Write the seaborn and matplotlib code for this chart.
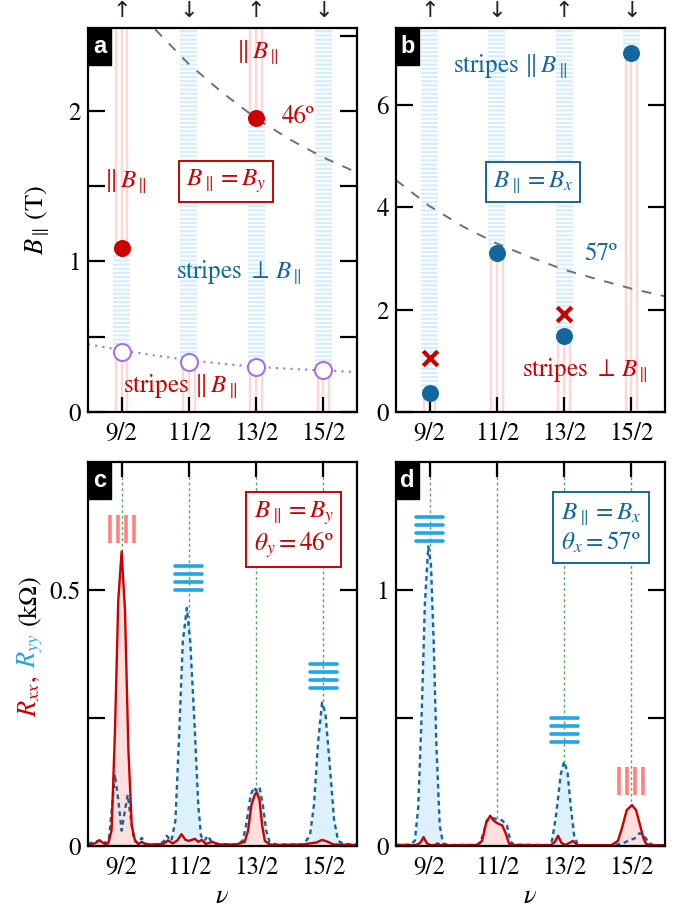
import numpy as np
import matplotlib
matplotlib.use('Agg')
import matplotlib.pyplot as plt
from matplotlib.patches import Rectangle
import seaborn as sns

# filling factors and spin branch of each half-filled level
nu_ticks = [4.5, 5.5, 6.5, 7.5]
nu_labels = ['9/2', '11/2', '13/2', '15/2']
spin_arrows = ['↑', '↓', '↑', '↓']

# panel a: B_par along y (46 deg)
a_onset = [1.09, np.nan, 1.95, np.nan]
a_open = [0.40, 0.335, 0.30, 0.28]
a_tilt_nu = [5.0, 5.5, 6.0, 6.5, 7.0, 7.5, 8.0]
a_tilt_B = [2.54, 2.31, 2.12, 1.95, 1.81, 1.69, 1.59]
a_fit_nu = [4.0, 4.5, 5.0, 5.5, 6.0, 6.5, 7.0, 7.5, 8.0]
a_fit_B = [0.45, 0.41, 0.375, 0.345, 0.32, 0.30, 0.287, 0.276, 0.265]

# panel b: B_par along x (57 deg)
b_onset = [0.37, 3.10, 1.49, 7.02]
b_cross_nu = [4.5, 6.5]
b_cross_B = [1.06, 1.92]
b_tilt_nu = [4.0, 4.5, 5.0, 5.5, 6.0, 6.5, 7.0, 7.5, 8.0]
b_tilt_B = [4.53, 4.02, 3.62, 3.29, 3.02, 2.78, 2.59, 2.41, 2.26]

# panel c: resistances at theta_y = 46 deg (kOhm)
c_rxx_nu = [4.0, 4.1, 4.17, 4.25, 4.3, 4.35, 4.4, 4.45, 4.5, 4.55, 4.6, 4.65, 4.7, 4.75,
            4.8, 4.86, 5.0, 5.12, 5.19, 5.26, 5.33, 5.39, 5.45, 5.5, 5.59, 5.64, 5.69, 5.75,
            5.85, 5.95, 6.2, 6.33, 6.38, 6.43, 6.48, 6.51, 6.55, 6.59, 6.63, 6.7, 6.8,
            7.2, 7.4, 7.48, 7.55, 7.65, 8.0]
c_rxx = [0.003, 0.005, 0.011, 0.004, 0.005, 0.03, 0.22, 0.48, 0.575, 0.46, 0.19, 0.04, 0.01, 0.004,
         0.008, 0.003, 0.003, 0.004, 0.011, 0.005, 0.011, 0.023, 0.012, 0.01, 0.014, 0.008, 0.012, 0.004,
         0.008, 0.003, 0.003, 0.008, 0.03, 0.08, 0.10, 0.105, 0.09, 0.04, 0.01, 0.003, 0.002,
         0.003, 0.007, 0.012, 0.009, 0.003, 0.002]
c_ryy_nu = [4.0, 4.1, 4.2, 4.26, 4.31, 4.36, 4.4, 4.45, 4.5, 4.55, 4.59, 4.63, 4.68, 4.74,
            4.8, 4.86, 5.0, 5.12, 5.17, 5.24, 5.3, 5.35, 5.41, 5.47, 5.52, 5.58, 5.64, 5.68,
            5.73, 5.78, 5.83, 5.9, 6.2, 6.3, 6.35, 6.42, 6.47, 6.5, 6.55, 6.6, 6.65, 6.7,
            6.8, 7.2, 7.3, 7.36, 7.42, 7.48, 7.53, 7.6, 7.66, 7.72, 7.8, 8.0]
c_ryy = [0.004, 0.008, 0.012, 0.005, 0.012, 0.08, 0.14, 0.09, 0.03, 0.07, 0.10, 0.06, 0.015, 0.005,
         0.016, 0.004, 0.003, 0.008, 0.02, 0.01, 0.05, 0.2, 0.40, 0.465, 0.40, 0.25, 0.08, 0.02,
         0.01, 0.02, 0.01, 0.004, 0.003, 0.01, 0.04, 0.10, 0.115, 0.108, 0.115, 0.08, 0.03, 0.008,
         0.003, 0.003, 0.02, 0.08, 0.2, 0.28, 0.26, 0.15, 0.05, 0.01, 0.004, 0.003]

# panel d: resistances at theta_x = 57 deg (kOhm)
d_rxx_nu = [4.0, 4.3, 4.36, 4.41, 4.46, 4.52, 4.58, 4.62, 4.66, 5.2, 5.28, 5.34, 5.4, 5.45,
            5.5, 5.58, 5.63, 5.68, 5.75, 6.3, 6.36, 6.41, 6.46, 6.52, 6.58, 6.63, 6.7,
            7.2, 7.3, 7.36, 7.43, 7.51, 7.57, 7.63, 7.68, 7.72, 7.8, 8.0]
d_rxx = [0.004, 0.004, 0.012, 0.035, 0.01, 0.003, 0.004, 0.01, 0.003, 0.004, 0.02, 0.09, 0.118, 0.10,
         0.09, 0.08, 0.05, 0.01, 0.004, 0.003, 0.015, 0.04, 0.012, 0.004, 0.012, 0.02, 0.003,
         0.003, 0.02, 0.07, 0.14, 0.16, 0.14, 0.08, 0.03, 0.008, 0.003, 0.003]
d_ryy_nu = [4.0, 4.2, 4.28, 4.33, 4.38, 4.43, 4.48, 4.52, 4.56, 4.6, 4.65, 4.7, 4.8, 5.2,
            5.25, 5.3, 5.35, 5.42, 5.5, 5.58, 5.65, 5.7, 5.75, 6.25, 6.32, 6.38, 6.45, 6.5,
            6.55, 6.6, 6.65, 6.7, 6.8, 7.2, 7.35, 7.45, 7.55, 7.62, 7.68, 7.75, 7.82, 8.0]
d_ryy = [0.004, 0.005, 0.02, 0.15, 0.5, 0.95, 1.17, 1.1, 0.8, 0.4, 0.08, 0.01, 0.004, 0.004,
         0.01, 0.05, 0.10, 0.11, 0.105, 0.10, 0.08, 0.02, 0.005, 0.004, 0.02, 0.12, 0.28, 0.33,
         0.29, 0.15, 0.04, 0.008, 0.003, 0.003, 0.008, 0.02, 0.03, 0.05, 0.045, 0.015, 0.004, 0.003]

# stripe orientation icons above the peaks: (nu, kind, lower edge)
c_icons = [(4.5, 'v', 0.592), (5.5, 'h', 0.500), (7.5, 'h', 0.309)]
d_icons = [(4.5, 'h', 1.192), (6.5, 'h', 0.408), (7.5, 'v', 0.20)]

RED = '#cc0000'
DBLUE = '#13679c'
LBLUE = '#1ea5ea'
PURPLE = '#a472e6'
PINK_LINE = '#ffd6d6'
BLUE_HATCH = '#d2edfc'
PINK_FILL = '#ffdede'
BLUE_FILL = '#dcf1fc'
GREEN = '#55aa55'

sns.set_theme(style='ticks')
plt.rcParams.update({
    'font.family': ['STIXGeneral', 'DejaVu Sans'],
    'mathtext.fontset': 'stix',
    'font.size': 18,
    'axes.labelsize': 19,
    'xtick.labelsize': 18,
    'ytick.labelsize': 18,
    'axes.linewidth': 1.6,
    'axes.edgecolor': 'black',
    'xtick.color': 'black',
    'ytick.color': 'black',
    'text.color': 'black',
    'axes.labelcolor': 'black',
    'hatch.linewidth': 1.5,
    'xtick.direction': 'in',
    'ytick.direction': 'in',
    'axes.facecolor': 'white',
})

W, H = 681, 913
fig = plt.figure(figsize=(W / 100, H / 100), dpi=100)


def axes_px(x0, y0, x1, y1):
    return fig.add_axes([x0 / W, 1 - y1 / H, (x1 - x0) / W, (y1 - y0) / H])


ax_a = axes_px(88, 28, 357, 412)
ax_b = axes_px(396, 28, 665, 412)
ax_c = axes_px(88, 462, 357, 846)
ax_d = axes_px(396, 462, 665, 846)


def panel_letter(ax, letter):
    ax.add_patch(Rectangle((0, 1 - 0.097), 0.086, 0.097, transform=ax.transAxes,
                           color='black', zorder=20, clip_on=False))
    ax.text(0.043, 1 - 0.048, letter, transform=ax.transAxes, color='white',
            fontsize=17, weight='bold', family='Liberation Sans',
            ha='center', va='center', zorder=21)


def style_axes(ax, ylim, yticks, ylabels, top_ticks):
    ax.set_xlim(4.0, 8.0)
    ax.set_ylim(*ylim)
    ax.set_xticks(nu_ticks)
    ax.set_xticklabels(nu_labels)
    ax.set_yticks(yticks)
    ax.set_yticklabels(ylabels)
    ax.tick_params(axis='y', which='both', left=True, right=True, length=12, width=1.6, pad=5)
    ax.tick_params(axis='x', bottom=True, top=top_ticks, length=11, width=1.6, pad=7)
    for s in ax.spines.values():
        s.set_visible(True)
        s.set_linewidth(1.6)
        s.set_zorder(15)
    ax.set_xlabel('')
    ax.set_ylabel('')


def red_band(ax, nu, y0, y1):
    for off in (-0.085, 0.0, 0.085):
        ax.plot([nu + off, nu + off], [y0, y1], color=PINK_LINE, lw=1.7,
                solid_capstyle='butt', zorder=0.5)


def blue_band(ax, nu, y0, y1):
    ax.add_patch(Rectangle((nu - 0.125, y0), 0.25, y1 - y0, facecolor='none',
                           edgecolor=BLUE_HATCH, hatch='----', lw=0, zorder=0.4))


def draw_icons(ax, icons, ylim):
    dy = (ylim[1] - ylim[0]) * 8 / 384
    for nu, kind, y0 in icons:
        if kind == 'h':
            for k in range(4):
                ax.plot([nu - 0.2, nu + 0.2], [y0 + k * dy] * 2, color=LBLUE, lw=2.6,
                        solid_capstyle='round', zorder=6)
        else:
            for k in (-1.5, -0.5, 0.5, 1.5):
                ax.plot([nu + k * 0.12] * 2, [y0, y0 + 3.5 * dy], color='#ff8080', lw=2.6,
                        solid_capstyle='butt', zorder=6)


def spin_labels(ax):
    for nu, arr in zip(nu_ticks, spin_arrows):
        ax.text(nu, 1.045, arr, transform=ax.get_xaxis_transform(), ha='center',
                va='center', fontsize=16, family='DejaVu Sans', color='#222222')


# ---- panel a
ya = (0, 2.55)
for nu, on, op in zip(nu_ticks, a_onset, a_open):
    if np.isnan(on):
        blue_band(ax_a, nu, op, ya[1])
    else:
        red_band(ax_a, nu, on, ya[1])
        blue_band(ax_a, nu, op, on)
    red_band(ax_a, nu, ya[0], op)

sns.lineplot(x=a_tilt_nu, y=a_tilt_B, ax=ax_a, color='#707070', lw=1.4,
             linestyle=(0, (5, 5)), zorder=2)
sns.lineplot(x=a_fit_nu, y=a_fit_B, ax=ax_a, color=PURPLE, lw=1.5,
             linestyle=(0, (1, 2.5)), zorder=2)
ax_a.scatter(nu_ticks, a_onset, s=150, color=RED, zorder=5, linewidths=0)
ax_a.scatter(nu_ticks, a_open, s=150, facecolor='white', edgecolor=PURPLE,
             linewidths=1.5, zorder=5)
style_axes(ax_a, ya, [0, 0.5, 1, 1.5, 2, 2.5], ['0', '', '1', '', '2', ''], False)
ax_a.set_ylabel(r'$B_\parallel\,$(T)', labelpad=12)
ax_a.text(6.52, 2.39, r'$\Vert\, B_\parallel$', color=RED, ha='center', va='center')
ax_a.text(4.55, 1.53, r'$\Vert\, B_\parallel$', color=RED, ha='center', va='center')
ax_a.text(6.88, 1.96, '46º', color=RED, ha='left', va='center')
ax_a.text(6.05, 1.53, r'$B_\parallel = B_y$', color=RED, ha='center', va='center',
          bbox=dict(boxstyle='square,pad=0.28', facecolor='white', edgecolor=RED, lw=1.4))
ax_a.text(6.25, 0.93, r'stripes $\perp\, B_\parallel$', color=DBLUE, ha='center', va='center')
ax_a.text(5.37, 0.17, r'stripes $\Vert\, B_\parallel$', color=RED, ha='center', va='center')
panel_letter(ax_a, 'a')
spin_labels(ax_a)

# ---- panel b
yb = (0, 7.5)
for nu, on in zip(nu_ticks, b_onset):
    blue_band(ax_b, nu, on, yb[1])
    red_band(ax_b, nu, yb[0], on)

sns.lineplot(x=b_tilt_nu, y=b_tilt_B, ax=ax_b, color='#707070', lw=1.4,
             linestyle=(0, (5, 5)), zorder=2)
ax_b.scatter(nu_ticks, b_onset, s=150, color=DBLUE, zorder=5, linewidths=0)
ax_b.scatter(b_cross_nu, b_cross_B, s=110, marker='x', color=RED, linewidths=3, zorder=5)
style_axes(ax_b, yb, [0, 2, 4, 6], ['0', '2', '4', '6'], False)
ax_b.text(5.7, 6.76, r'stripes $\Vert\, B_\parallel$', color=DBLUE, ha='center', va='center')
ax_b.text(7.04, 3.08, '57º', color=DBLUE, ha='center', va='center')
ax_b.text(6.81, 0.82, r'stripes $\perp\, B_\parallel$', color=RED, ha='center', va='center')
ax_b.text(6.04, 4.49, r'$B_\parallel = B_x$', color=DBLUE, ha='center', va='center',
          bbox=dict(boxstyle='square,pad=0.28', facecolor='white', edgecolor=DBLUE, lw=1.4))
panel_letter(ax_b, 'b')
spin_labels(ax_b)


# ---- panels c and d
def resistance_panel(ax, rxx_nu, rxx, ryy_nu, ryy, ylim, yticks, ylabels, icons,
                     box_text, box_color, box_xy):
    for nu in nu_ticks:
        ax.axvline(nu, color=GREEN, lw=1.0, linestyle=(0, (2, 2)), zorder=0.5)
    ax.fill_between(ryy_nu, ryy, color=BLUE_FILL, lw=0, zorder=1)
    ax.fill_between(rxx_nu, rxx, color=PINK_FILL, lw=0, zorder=1.1)
    sns.lineplot(x=ryy_nu, y=ryy, ax=ax, color=DBLUE, lw=1.7,
                 linestyle=(0, (2.0, 1.6)), zorder=3)
    sns.lineplot(x=rxx_nu, y=rxx, ax=ax, color=RED, lw=1.7, zorder=4)
    draw_icons(ax, icons, ylim)
    style_axes(ax, ylim, yticks, ylabels, True)
    ax.set_xlabel(r'$\nu$', labelpad=4)
    ax.text(box_xy[0], box_xy[1], box_text, color=box_color, ha='center', va='center',
            linespacing=1.15,
            bbox=dict(boxstyle='square,pad=0.3', facecolor='white', edgecolor=box_color, lw=1.4))


resistance_panel(ax_c, c_rxx_nu, c_rxx, c_ryy_nu, c_ryy, (0, 0.75), [0, 0.25, 0.5],
                 ['0', '', '0.5'], c_icons, '$B_\\parallel = B_y$\n$\\theta_y = 46$º',
                 RED, (7.06, 0.618))
panel_letter(ax_c, 'c')

resistance_panel(ax_d, d_rxx_nu, d_rxx, d_ryy_nu, d_ryy, (0, 1.5), [0, 0.5, 1],
                 ['0', '', '1'], d_icons, '$B_\\parallel = B_x$\n$\\theta_x = 57$º',
                 DBLUE, (7.05, 1.241))
panel_letter(ax_d, 'd')

# two-colour y label of panel c
fig.text(30 / W, 1 - 696 / H, r'$R_{xx}$,', color=RED, rotation=90, ha='center', va='center',
         fontsize=19)
fig.text(30 / W, 1 - 651 / H, r'$R_{yy}$', color=LBLUE, rotation=90, ha='center', va='center',
         fontsize=19)
fig.text(30 / W, 1 - 601 / H, r'(k$\Omega$)', color='black', rotation=90, ha='center',
         va='center', fontsize=19)

fig.savefig('out.png', dpi=100)
